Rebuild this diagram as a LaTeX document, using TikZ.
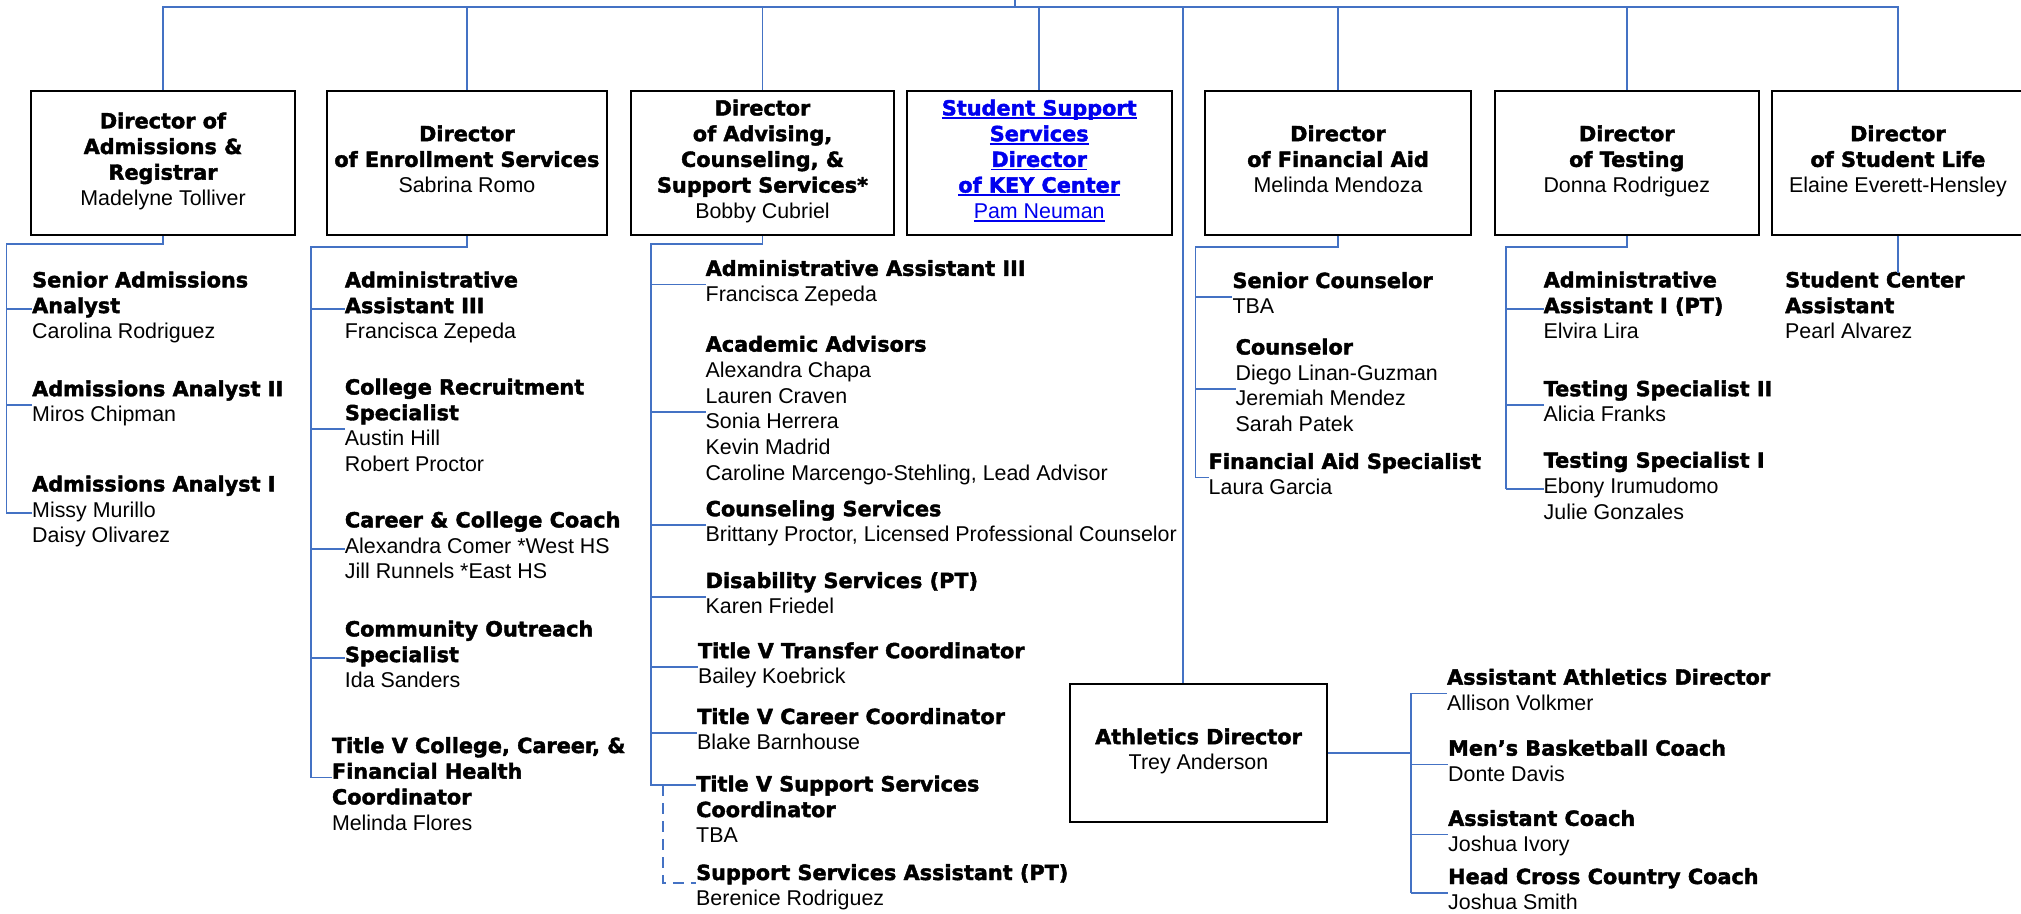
\documentclass[tikz,border=0pt]{standalone}
\usepackage{fontspec}
\setmainfont{Liberation Sans}
\newfontfamily\heavyfont{DejaVu Sans}[BoldFeatures={FakeBold=2}]
\usetikzlibrary{positioning}

\definecolor{lineblue}{RGB}{68,114,196}
\definecolor{keyblue}{RGB}{0,0,238}
\newcommand{\ttl}[1]{{\heavyfont\bfseries\fontsize{20.8}{25.7}\selectfont #1}}
\newcommand{\lnk}[1]{\setbox0\hbox{#1}\rlap{\rule[-3.5pt]{\wd0}{1.6pt}}\box0}

\begin{document}
\begin{tikzpicture}[x=1pt, y=-1pt,
	every node/.style={font=\fontsize{21.4}{25.7}\selectfont, inner sep=0pt},
	unit/.style={draw, line width=2pt, align=center, minimum height=144pt, execute at begin node=\strut, execute at end node=\strut},
	staff/.style={anchor=west, align=left, execute at begin node=\strut, execute at end node=\strut},
	conn/.style={draw=lineblue, line width=1.7pt},
	conndash/.style={conn, dash pattern=on 11pt off 7pt}]

\useasboundingbox (0,0) rectangle (2021,913);

% directors
\node[unit, minimum width=264pt] (dAdm) at (163,162.8) {\ttl{Director of}\\\ttl{Admissions \&}\\\ttl{Registrar}\\Madelyne Tolliver};
\node[unit, minimum width=280pt] (dEnr) at (466.9,162.8) {\ttl{Director}\\\ttl{of Enrollment Services}\\Sabrina Romo};
\node[unit, minimum width=263pt] (dAdv) at (762.5,162.8) {\ttl{Director}\\\ttl{of Advising,}\\\ttl{Counseling, \&}\\\ttl{Support Services*}\\Bobby Cubriel};
\node[unit, minimum width=265pt, text=keyblue] (dKey) at (1039.2,162.8) {\ttl{\lnk{Student Support}}\\\ttl{\lnk{Services}}\\\ttl{\lnk{Director}}\\\ttl{\lnk{of KEY Center}}\\\lnk{Pam Neuman}};
\node[unit, minimum width=266pt] (dFin) at (1338,162.8) {\ttl{Director}\\\ttl{of Financial Aid}\\Melinda Mendoza};
\node[unit, minimum width=264.5pt] (dTest) at (1626.8,162.8) {\ttl{Director}\\\ttl{of Testing}\\Donna Rodriguez};
\node[unit, minimum width=252.3pt] (dLife) at (1897.9,162.8) {\ttl{Director}\\\ttl{of Student Life}\\Elaine Everett-Hensley};
\node[unit, minimum width=257pt, minimum height=138pt] (dAth) at (1198.5,753) {\ttl{Athletics Director}\\Trey Anderson};

% admissions
\node[staff] (sa1) at (32,309) {\ttl{Senior Admissions}\\\ttl{Analyst}\\Carolina Rodriguez};
\node[staff] (sa2) at (32,405) {\ttl{Admissions Analyst II}\\Miros Chipman};
\node[staff] (sa3) at (32,513) {\ttl{Admissions Analyst I}\\Missy Murillo\\Daisy Olivarez};

% enrollment
\node[staff] (se1) at (344.7,309) {\ttl{Administrative}\\\ttl{Assistant III}\\Francisca Zepeda};
\node[staff] (se2) at (344.7,429) {\ttl{College Recruitment}\\\ttl{Specialist}\\Austin Hill\\Robert Proctor};
\node[staff] (se3) at (344.7,549) {\ttl{Career \& College Coach}\\Alexandra Comer *West HS\\Jill Runnels *East HS};
\node[staff] (se4) at (344.7,658) {\ttl{Community Outreach}\\\ttl{Specialist}\\Ida Sanders};
\node[staff] (se5) at (331.8,787.5) {\ttl{Title V College, Career, \&}\\\ttl{Financial Health}\\\ttl{Coordinator}\\Melinda Flores};

% advising
\node[staff] (sv1) at (705.5,284.6) {\ttl{Administrative Assistant III}\\Francisca Zepeda};
\node[staff] (sv2) at (705.5,411.8) {\ttl{Academic Advisors}\\Alexandra Chapa\\Lauren Craven\\Sonia Herrera\\Kevin Madrid\\Caroline Marcengo-Stehling, Lead Advisor};
\node[staff] (sv3) at (705.5,525) {\ttl{Counseling Services}\\Brittany Proctor, Licensed Professional Counselor};
\node[staff] (sv4) at (705.5,596.8) {\ttl{Disability Services (PT)}\\Karen Friedel};
\node[staff] (sv5) at (697.8,667) {\ttl{Title V Transfer Coordinator}\\Bailey Koebrick};
\node[staff] (sv6) at (697,732.8) {\ttl{Title V Career Coordinator}\\Blake Barnhouse};
\node[staff] (sv7) at (696,813) {\ttl{Title V Support Services}\\\ttl{Coordinator}\\TBA};
\node[staff] (sv8) at (696,888.8) {\ttl{Support Services Assistant (PT)}\\Berenice Rodriguez};

% financial aid
\node[staff] (sf1) at (1232.3,296.8) {\ttl{Senior Counselor}\\TBA};
\node[staff] (sf2) at (1235.5,389) {\ttl{Counselor}\\Diego Linan-Guzman\\Jeremiah Mendez\\Sarah Patek};
\node[staff] (sf3) at (1208.5,477.6) {\ttl{Financial Aid Specialist}\\Laura Garcia};

% testing
\node[staff] (st1) at (1543.5,309) {\ttl{Administrative}\\\ttl{Assistant I (PT)}\\Elvira Lira};
\node[staff] (st2) at (1543.5,405) {\ttl{Testing Specialist II}\\Alicia Franks};
\node[staff] (st3) at (1543.5,489.3) {\ttl{Testing Specialist I}\\Ebony Irumudomo\\Julie Gonzales};

% student life
\node[staff] (sl1) at (1785,309) {\ttl{Student Center}\\\ttl{Assistant}\\Pearl Alvarez};

% athletics
\node[staff] (sx1) at (1446.9,693.4) {\ttl{Assistant Athletics Director}\\Allison Volkmer};
\node[staff] (sx2) at (1448,764.4) {\ttl{Men’s Basketball Coach}\\Donte Davis};
\node[staff] (sx3) at (1448,834.6) {\ttl{Assistant Coach}\\Joshua Ivory};
\node[staff] (sx4) at (1448,892.8) {\ttl{Head Cross Country Coach}\\Joshua Smith};

% top bus
\coordinate (top) at (1015,0);
\coordinate (bus) at (1015,6.7);
\coordinate (athTop) at (1183,6.7);
\draw[conn] (top) -- (bus);
\draw[conn] (dAdm.north) |- (bus) -| (dLife.north);
\foreach \d in {dEnr,dAdv,dKey,dFin,dTest}
	\draw[conn] (\d.north) -- (\d.north |- bus);
\draw[conn] (athTop) -- (athTop |- dAth.north);

% trunks under the boxes
\coordinate (trAdm) at (6.4,244);
\coordinate (trEnr) at (311,246.7);
\coordinate (trAdv) at (650.8,244);
\coordinate (trFin) at (1195.6,246.7);
\coordinate (trTst) at (1506,246.7);
\coordinate (se5t) at ([yshift=10pt]se5.west);
\coordinate (sv7t) at ([yshift=28pt]sv7.west);
\coordinate (sv8t) at ([yshift=6pt]sv8.west);
\coordinate (dv) at (662.7,0);
\coordinate (lifeEnd) at (1897.9,273.3);

\draw[conn] (dAdm.south) |- (trAdm) -- (trAdm |- sa3.west);
\foreach \s in {sa1,sa2,sa3}
	\draw[conn] (trAdm |- \s.west) -- (\s.west);

\draw[conn] (dEnr.south) |- (trEnr) -- (trEnr |- se5t) -- (se5t);
\foreach \s in {se1,se2,se3,se4}
	\draw[conn] (trEnr |- \s.west) -- (\s.west);

\draw[conn] (dAdv.south) |- (trAdv) -- (trAdv |- sv7t) -- (sv7t);
\foreach \s in {sv1,sv2,sv3,sv4,sv5,sv6}
	\draw[conn] (trAdv |- \s.west) -- (\s.west);
\draw[conndash] (sv7t -| dv) |- (sv8t); %dashed one

\draw[conn] (dFin.south) |- (trFin) -- (trFin |- sf3.west);
\foreach \s in {sf1,sf2,sf3}
	\draw[conn] (trFin |- \s.west) -- (\s.west);

\draw[conn] (dTest.south) |- (trTst) -- (trTst |- st3.west);
\foreach \s in {st1,st2,st3}
	\draw[conn] (trTst |- \s.west) -- (\s.west);

\draw[conn] (dLife.south) -- (lifeEnd);

\coordinate (brAth) at (1410.8,753);
\draw[conn] (dAth.east) -- (brAth);
\draw[conn] (brAth |- sx1.west) -- (brAth |- sx4.west);
\foreach \s in {sx1,sx2,sx3,sx4}
	\draw[conn] (brAth |- \s.west) -- (\s.west);
\end{tikzpicture}
\end{document}
